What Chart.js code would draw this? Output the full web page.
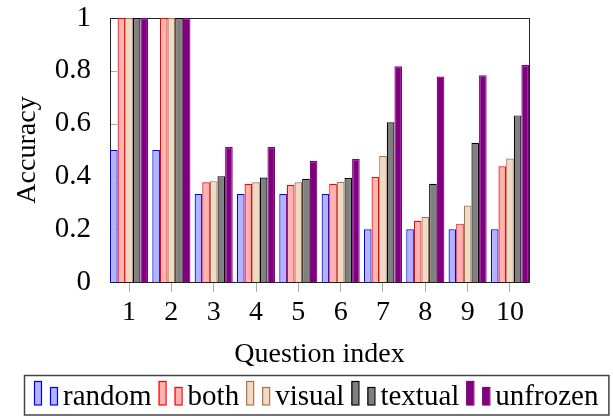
<!DOCTYPE html>
<html>
<head>
<meta charset="utf-8">
<script src="https://cdn.jsdelivr.net/npm/chart.js@4"></script>
<style>
  html, body { margin: 0; padding: 0; background: #fff; }
  canvas { display: block; }
</style>
</head>
<body>
<canvas id="barCanvas" width="613" height="416"></canvas>
<script>
// question index on x, accuracy on y
var questions = [1, 2, 3, 4, 5, 6, 7, 8, 9, 10];
var yTicks = [0, 0.2, 0.4, 0.6, 0.8, 1];

var randomAcc   = [0.5, 0.5, 0.333, 0.333, 0.333, 0.333, 0.2, 0.2, 0.2, 0.2];
var bothAcc     = [1, 1, 0.378, 0.372, 0.367, 0.372, 0.398, 0.232, 0.221, 0.438];
var visualAcc   = [1, 1, 0.382, 0.378, 0.378, 0.380, 0.477, 0.246, 0.290, 0.468];
var textualAcc  = [1, 1, 0.401, 0.396, 0.391, 0.394, 0.605, 0.372, 0.527, 0.631];
var unfrozenAcc = [1, 1, 0.511, 0.511, 0.458, 0.466, 0.817, 0.778, 0.783, 0.822];

var serif = '"Liberation Serif", "DejaVu Serif", serif';

function points(values) {
  return questions.map(function (q, i) { return { x: q, y: values[i] }; });
}

function series(label, values, fill, stroke) {
  return {
    label: label,
    data: points(values),
    backgroundColor: fill,
    borderColor: stroke,
    borderWidth: 1.2,
    categoryPercentage: 0.9,
    barPercentage: 1.0
  };
}

// pgfplots style frame + inner y ticks
var framePlugin = {
  id: "frame",
  beforeDatasetsDraw: function (chart) {
    var ctx = chart.ctx, a = chart.chartArea, y = chart.scales.y;
    ctx.save();
    ctx.strokeStyle = "#aaa";
    ctx.lineWidth = 1;
    yTicks.forEach(function (t) {
      if (t === 0 || t === 1) return;
      var py = Math.round(y.getPixelForValue(t)) + 0.5;
      ctx.beginPath();
      ctx.moveTo(a.left, py);
      ctx.lineTo(a.left + 7, py);
      ctx.stroke();
    });
    ctx.strokeStyle = "#222";
    ctx.strokeRect(Math.round(a.left) + 0.5, Math.round(a.top) + 0.5,
                   Math.round(a.right - a.left), Math.round(a.bottom - a.top));
    ctx.restore();
  }
};

// legend with the two-bar ybar icons
var legendPlugin = {
  id: "barLegend",
  afterDraw: function (chart) {
    var ctx = chart.ctx;
    ctx.save();
    ctx.font = "29px " + serif;
    ctx.textBaseline = "alphabetic";
    var x = 34;
    chart.data.datasets.forEach(function (ds) {
      ctx.fillStyle = ds.backgroundColor;
      ctx.strokeStyle = ds.borderColor;
      ctx.lineWidth = 1.2;
      ctx.fillRect(x, 381.5, 7, 23.5);
      ctx.strokeRect(x + 0.5, 381.5, 7, 23.5);
      ctx.fillRect(x + 16, 387.5, 7, 17.5);
      ctx.strokeRect(x + 16.5, 387.5, 7, 17.5);
      ctx.fillStyle = "#000";
      ctx.fillText(ds.label, x + 29, 405);
      x = x + 29 + ctx.measureText(ds.label).width + 7;
    });
    ctx.strokeStyle = "#444";
    ctx.lineWidth = 1.5;
    ctx.strokeRect(24.5, 375.5, x - 7 + 10 - 24, 39.5);
    ctx.restore();
  }
};

var graphData = {
  type: "bar",
  data: {
    datasets: [
      series("random", randomAcc, "rgb(179,179,255)", "rgb(0,0,255)"),
      series("both", bothAcc, "rgb(255,179,179)", "rgb(255,0,0)"),
      series("visual", visualAcc, "rgb(238,218,198)", "rgb(165,118,72)"),
      series("textual", textualAcc, "rgb(128,128,128)", "rgb(0,0,0)"),
      series("unfrozen", unfrozenAcc, "rgb(128,0,128)", "rgb(128,0,128)")
    ]
  },
  options: {
    responsive: false,
    animation: false,
    layout: { padding: { left: 0, right: 84, top: 18, bottom: 41 } },
    plugins: {
      legend: { display: false },
      tooltip: { enabled: false }
    },
    scales: {
      x: {
        type: "linear",
        min: 0.55,
        max: 10.45,
        offset: false,
        afterBuildTicks: function (scale) {
          scale.ticks = questions.map(function (q) { return { value: q }; });
        },
        afterFit: function (scale) { scale.height = 93; },
        grid: { drawOnChartArea: false, offset: false, tickLength: 10, color: "#aaa" },
        border: { display: false },
        ticks: { font: { family: serif, size: 28 }, color: "#000", padding: 4, maxRotation: 0 },
        title: {
          display: true,
          text: "Question index",
          font: { family: serif, size: 28 },
          color: "#000",
          padding: { top: 0, bottom: 4 }
        }
      },
      y: {
        min: 0,
        max: 1,
        afterBuildTicks: function (scale) {
          scale.ticks = yTicks.map(function (t) { return { value: t }; });
        },
        afterFit: function (scale) {
          scale.width = 110;
          scale.paddingTop = 0;
          scale.paddingBottom = 0;
        },
        grid: { display: false },
        border: { display: false },
        ticks: {
          font: { family: serif, size: 29 },
          color: "#000",
          padding: 11,
          callback: function (v) { return String(v); }
        },
        title: {
          display: true,
          text: "Accuracy",
          font: { family: serif, size: 28 },
          color: "#000",
          padding: { top: 11, bottom: 0 }
        }
      }
    }
  },
  plugins: [framePlugin, legendPlugin]
};

var context = document.getElementById("barCanvas").getContext("2d");
var barChart = new Chart(context, graphData);
</script>
</body>
</html>
